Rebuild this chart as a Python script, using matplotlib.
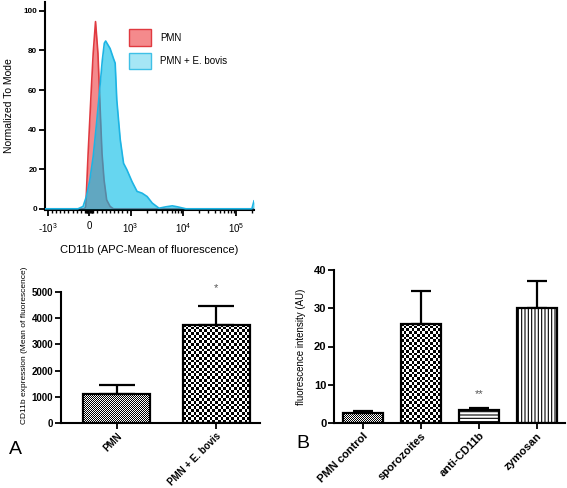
import numpy as np
import matplotlib
matplotlib.use('Agg')
import matplotlib.pyplot as plt
from matplotlib.patches import Patch

plt.rcParams['font.family'] = ['Liberation Sans', 'DejaVu Sans']
plt.rcParams['hatch.linewidth'] = 0.8

# --- histogram (flow cytometry overlay), x in fluorescence units, y in % of mode ---
pmn_x = [-1120, -110, -80, -24, 56, 98, 154, 212, 244, 276, 310, 359, 422, 505, 585, 220000]
pmn_y = [0, 0, 1.2, 28, 61.8, 78.6, 94.6, 78.6, 61.8, 45, 28, 14.6, 4.5, 1.2, 0, 0]
ebov_x = [-1120, -268, -146, -66, 17, 98, 178, 261, 317, 366, 398, 505, 585, 627, 666, 749, 829,
          910, 1059, 1322, 1649, 2055, 2570, 3455, 4645, 6170, 7770, 11200, 200500, 220000]
ebov_y = [0, 0, 1.2, 6.2, 14.6, 26.4, 43, 61.8, 75, 83.7, 84.8, 81, 76, 73.6, 55, 35, 23,
          19.7, 13.8, 8.8, 7.9, 6.2, 2.9, 0.3, 1, 1.5, 1, 0, 0, 4]

# --- panel A ---
a_labels = ['PMN', 'PMN + E. bovis']
a_means = [1100, 3750]
a_err = [350, 720]

# --- panel B ---
b_labels = ['PMN control', 'sporozoites', 'anti-CD11b', 'zymosan']
b_means = [2.5, 26, 3.5, 30]
b_err = [0.7, 8.5, 0.5, 7]

W, H = 567, 488
fig = plt.figure(figsize=(W / 100, H / 100), dpi=100)


def box(l, t, r, b):
    return [l / W, 1 - b / H, (r - l) / W, (b - t) / H]


def style(ax, size=7):
    for s in ['top', 'right']:
        ax.spines[s].set_visible(False)
    for s in ['left', 'bottom']:
        ax.spines[s].set_linewidth(1.5)
    ax.tick_params(direction='out', width=1.3, length=4, labelsize=size, pad=1.5)
    for t in ax.get_yticklabels():
        t.set_fontweight('bold')


def checker(ax, patch, cell):
    x0, y0 = patch.get_x(), patch.get_y()
    w, h = patch.get_width(), patch.get_height()
    (p0x, p0y), (p1x, p1y) = ax.transData.transform([(x0, y0), (x0 + w, y0 + h)])
    nx = max(1, int(round((p1x - p0x) / cell)))
    ny = max(1, int(round((p1y - p0y) / cell)))
    grid = np.indices((ny, nx)).sum(axis=0) % 2
    im = ax.imshow(grid, cmap='gray', vmin=0, vmax=1, extent=(x0, x0 + w, y0, y0 + h),
                   aspect='auto', interpolation='nearest', zorder=1.5)
    im.set_clip_path(patch)


# ---------------- histogram ----------------
ax0 = fig.add_axes(box(45, 2, 254, 210))
ax0.fill_between(pmn_x, pmn_y, color='#f48a8c', lw=0, zorder=2)
ax0.plot(pmn_x, pmn_y, color='#e03a40', lw=1.2, zorder=2.1)
ax0.fill_between(ebov_x, ebov_y, color='#00bce6', alpha=0.6, lw=0, zorder=3)
ax0.plot(ebov_x, ebov_y, color='#1db4e4', lw=1.2, zorder=3.1)
ax0.set_xscale('symlog', linthresh=1000, linscale=0.71)
ax0.set_xlim(-1120, 220000)
ax0.set_ylim(-0.6, 104.5)
ax0.set_yticks([0, 20, 40, 60, 80, 100])
ax0.set_xticks([-1000, 0, 1000, 10000, 100000])
ax0.set_xticklabels([r'-$\mathregular{10^3}$', '0', r'$\mathregular{10^3}$',
                     r'$\mathregular{10^4}$', r'$\mathregular{10^5}$'])
minor = list(range(-900, 0, 100)) + list(range(-80, 100, 20)) + list(range(100, 1000, 100))
minor += [m * 10 ** e for e in (3, 4) for m in range(2, 10)] + [200000]
ax0.set_xticks(minor, minor=True)
style(ax0, size=5.8)
ax0.tick_params(axis='x', which='minor', length=2.5, width=1)
ax0.tick_params(axis='x', labelsize=7, pad=4)
ax0.set_ylabel('Normalized To Mode', fontsize=7.5, labelpad=7)
ax0.set_xlabel('CD11b (APC-Mean of fluorescence)', fontsize=8, labelpad=7)
ax0.legend(handles=[Patch(facecolor='#f48a8c', edgecolor='#e03a40', label='PMN'),
                    Patch(facecolor='#a6e6f5', edgecolor='#3fc0e6', label='PMN + E. bovis')],
           loc='upper left', bbox_to_anchor=(0.36, 0.91), frameon=False, fontsize=7,
           handlelength=2.3, handleheight=2.2, labelspacing=0.75, handletextpad=0.9)

# ---------------- panel A ----------------
ax1 = fig.add_axes(box(61, 292, 260, 423))
xa = np.arange(len(a_labels))
bars_a = ax1.bar(xa, a_means, width=0.67, facecolor='none', edgecolor='black', lw=1.6, zorder=2)
ax1.errorbar(xa, a_means, yerr=[np.zeros(len(a_err)), a_err], fmt='none', ecolor='black',
             elinewidth=1.6, capsize=13, capthick=1.6, zorder=1.8)
ax1.set_xlim(-0.56, 1.44)
ax1.set_ylim(0, 5000)
ax1.set_yticks(range(0, 5001, 1000))
ax1.set_xticks(xa)
ax1.set_xticklabels(a_labels, rotation=45, ha='right', rotation_mode='anchor',
                    fontweight='bold', fontsize=7.8)
style(ax1, size=7)
checker(ax1, bars_a[0], 1.0)
checker(ax1, bars_a[1], 2.7)
ax1.set_xlim(-0.56, 1.44)
ax1.set_ylim(0, 5000)
ax1.text(xa[1], 4950, '*', ha='center', va='bottom', fontsize=8, color='#555555', clip_on=False)
ax1.set_ylabel('CD11b expression (Mean of fluorescence)', fontsize=6)
ax1.yaxis.set_label_coords(-0.165, 0.595)

# ---------------- panel B ----------------
ax2 = fig.add_axes(box(334, 270, 565, 423))
xb = np.arange(len(b_labels))
bars_b = ax2.bar(xb, b_means, width=0.69, facecolor='none', edgecolor='black', lw=1.6, zorder=2)
bars_b[2].set_facecolor('white')
bars_b[2].set_hatch('-----')
bars_b[3].set_facecolor('white')
bars_b[3].set_hatch('|||||')
ax2.errorbar(xb, b_means, yerr=[np.zeros(len(b_err)), b_err], fmt='none', ecolor='black',
             elinewidth=1.6, capsize=7.5, capthick=1.6, zorder=1.8)
ax2.set_xlim(-0.5, 3.49)
ax2.set_ylim(0, 40)
ax2.set_yticks(range(0, 41, 10))
ax2.set_xticks(xb)
ax2.set_xticklabels(b_labels, rotation=45, ha='right', rotation_mode='anchor',
                    fontweight='bold', fontsize=8.8)
style(ax2, size=8)
checker(ax2, bars_b[0], 1.0)
checker(ax2, bars_b[1], 2.7)
ax2.set_xlim(-0.5, 3.49)
ax2.set_ylim(0, 40)
ax2.text(xb[2], 6.2, '**', ha='center', va='bottom', fontsize=8, color='#555555')
ax2.set_ylabel('fluorescence intensity (AU)', fontsize=7)
ax2.yaxis.set_label_coords(-0.12, 0.5)

fig.text(15 / W, 1 - 450 / H, 'A', fontsize=14, ha='center', va='center')
fig.text(303 / W, 1 - 443 / H, 'B', fontsize=14, ha='center', va='center')

fig.savefig('out.png', dpi=100)
